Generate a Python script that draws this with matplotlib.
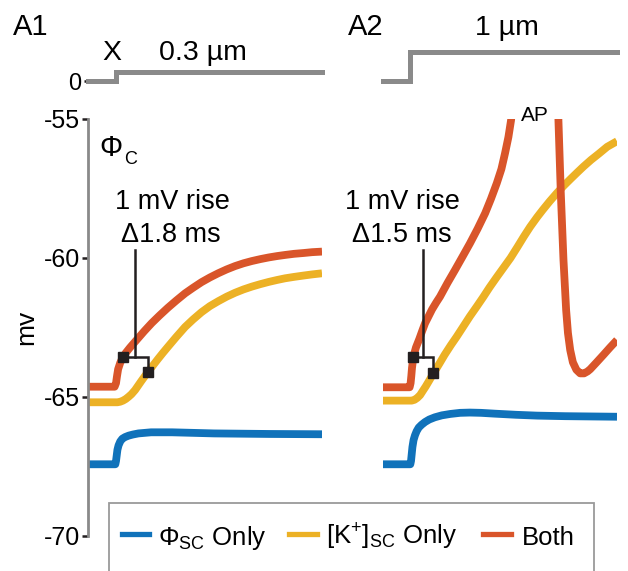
import numpy as np
import matplotlib
matplotlib.use('Agg')
import matplotlib.pyplot as plt
from matplotlib.patches import Rectangle
from matplotlib.lines import Line2D

plt.rcParams['font.family'] = ['Liberation Sans', 'DejaVu Sans']
plt.rcParams['mathtext.fontset'] = 'custom'
plt.rcParams['mathtext.rm'] = 'Liberation Sans'
plt.rcParams['mathtext.it'] = 'Liberation Sans:italic'

# ---- data (time in ms, membrane potential in mV) ----
# A1 : 0.3 um step
stim1_t = [0, 2.0, 2.0, 16.7]
stim1_v = [0, 0, 0.3, 0.3]

a1_both_t = [0, 1.9, 2.0, 2.07, 2.15, 2.3, 2.48, 2.7, 3.0, 3.5, 4.0, 4.55, 5.1, 5.7, 6.3,
             6.93, 7.5, 8.1, 8.7, 9.29, 9.9, 10.5, 11.1, 11.69, 12.3, 12.9, 13.5, 14.07,
             14.7, 15.4, 16.0, 16.7]
a1_both_v = [-64.63, -64.63, -64.5, -64.25, -64.0, -63.77, -63.57, -63.41, -63.22, -62.93,
             -62.64, -62.34, -62.07, -61.79, -61.53, -61.27, -61.07, -60.87, -60.7, -60.55,
             -60.41, -60.29, -60.19, -60.11, -60.04, -59.98, -59.93, -59.89, -59.85, -59.82,
             -59.79, -59.77]

a1_k_t = [0, 2.1, 2.3, 2.5, 2.7, 2.9, 3.1, 3.36, 3.8, 4.26, 4.6, 5.0, 5.35, 5.73, 6.3,
          6.93, 7.5, 8.1, 8.7, 9.31, 9.9, 10.5, 11.1, 11.69, 12.3, 12.9, 13.5, 14.07, 14.7,
          15.4, 16.0, 16.7]
a1_k_v = [-65.19, -65.19, -65.17, -65.13, -65.07, -64.99, -64.9, -64.75, -64.43, -64.11,
          -63.89, -63.63, -63.41, -63.18, -62.84, -62.48, -62.21, -61.95, -61.73, -61.55,
          -61.39, -61.25, -61.13, -61.03, -60.94, -60.86, -60.79, -60.73, -60.68, -60.63,
          -60.59, -60.55]

a1_phi_t = [0, 1.95, 2.0, 2.05, 2.1, 2.18, 2.3, 2.45, 2.65, 2.9, 3.2, 3.6, 4.5, 6, 9, 13, 16.7]
a1_phi_v = [-67.42, -67.42, -67.3, -67.1, -66.9, -66.74, -66.6, -66.5, -66.44, -66.39,
            -66.35, -66.31, -66.27, -66.27, -66.31, -66.33, -66.34]

# A2 : 1 um step
stim2_t = [0, 1.93, 1.93, 16.7]
stim2_v = [0, 0, 1, 1]

a2_both_t = [0, 1.9, 1.97, 2.02, 2.07, 2.12, 2.17, 2.35, 2.6, 2.8, 3.0, 3.25, 3.5, 3.8,
             4.07, 4.6, 5.14, 5.7, 6.21, 6.75, 7.29, 7.7, 8.12, 8.45, 8.71, 8.95, 9.14,
             9.4, 10.6, 12.2, 12.52, 12.69, 12.88, 13.0, 13.07, 13.2, 13.36, 13.55, 13.8,
             14.07, 14.35, 14.6, 14.79, 15.25, 15.74, 16.2, 16.7]
a2_both_v = [-64.65, -64.65, -64.5, -64.25, -63.95, -63.75, -63.55, -63.22, -62.9, -62.62,
             -62.35, -62.1, -61.85, -61.6, -61.39, -60.9, -60.43, -59.93, -59.47, -58.95,
             -58.39, -57.88, -57.31, -56.8, -56.23, -55.65, -55.04, -53.5, 20.0, -45.0,
             -55.04, -57.67, -60.07, -61.2, -61.87, -62.7, -63.31, -63.75, -64.02, -64.15,
             -64.15, -64.08, -64.0, -63.75, -63.48, -63.22, -62.95]

a2_k_t = [0, 2.05, 2.25, 2.45, 2.65, 2.88, 3.05, 3.25, 3.6, 4.0, 4.4, 4.85, 5.26, 5.75,
          6.2, 6.7, 7.16, 7.6, 8.1, 8.6, 9.1, 9.6, 10.05, 10.5, 11.0, 11.4, 11.9, 12.4,
          12.9, 13.4, 13.85, 14.31, 14.85, 15.4, 16.0, 16.7]
a2_k_v = [-65.13, -65.13, -65.1, -65.03, -64.93, -64.75, -64.62, -64.45, -64.15, -63.82,
          -63.48, -63.13, -62.83, -62.45, -62.1, -61.74, -61.4, -61.06, -60.7, -60.35,
          -60.0, -59.6, -59.23, -58.88, -58.53, -58.27, -57.96, -57.67, -57.4, -57.15,
          -56.93, -56.71, -56.47, -56.25, -56.0, -55.8]

a2_phi_t = [0, 1.95, 2.0, 2.05, 2.1, 2.18, 2.28, 2.4, 2.55, 2.75, 3.0, 3.3, 3.7, 4.2, 4.8,
            5.5, 6.2, 7.0, 8.0, 9.5, 11, 13, 16.7]
a2_phi_v = [-67.42, -67.42, -67.3, -67.05, -66.8, -66.55, -66.38, -66.23, -66.1, -66.0,
            -65.9, -65.81, -65.73, -65.66, -65.61, -65.57, -65.56, -65.57, -65.6, -65.64,
            -65.67, -65.69, -65.71]

# 1 mV rise markers: (t_both, t_k, v_both, v_k)
a1_marks = [2.48, 4.26, -63.57, -64.11]
a2_marks = [2.17, 3.6, -63.55, -64.13]

labels = ['\u03a6$_{\\mathrm{SC}}$ Only', '[K$^{\\mathrm{+}}$]$_{\\mathrm{SC}}$ Only', 'Both']

BLUE = '#1072ba'
YELLOW = '#ecb125'
ORANGE = '#d9552a'
GREY = '#8a8a8a'
INK = '#231f20'

W, H = 628, 571
def fx(x): return x / W
def fy(y): return 1 - y / H

fig = plt.figure(figsize=(W / 100, H / 100), dpi=100)

lw = 5.6
ax1 = fig.add_axes([fx(88), fy(536), 234 / W, 417 / H])
ax2 = fig.add_axes([fx(383), fy(536), 234 / W, 417 / H])
for ax, data, mk in [(ax1, (a1_phi_t, a1_phi_v, a1_k_t, a1_k_v, a1_both_t, a1_both_v), a1_marks),
                     (ax2, (a2_phi_t, a2_phi_v, a2_k_t, a2_k_v, a2_both_t, a2_both_v), a2_marks)]:
    ax.plot(data[0], data[1], color=BLUE, lw=lw, solid_capstyle='butt', solid_joinstyle='round')
    ax.plot(data[2], data[3], color=YELLOW, lw=lw, solid_capstyle='butt', solid_joinstyle='round')
    ax.plot(data[4], data[5], color=ORANGE, lw=lw, solid_capstyle='butt', solid_joinstyle='round')
    tb, tk, vb, vk = mk
    ax.plot([tb, tk, tk], [vb, vb, vk], color=INK, lw=1.8, solid_joinstyle='miter')
    ax.plot([tb, tk], [vb, vk], 's', color=INK, ms=6.5)
    ax.plot([(tb + tk) / 2 if ax is ax1 else tb + 0.67] * 2, [vb, -59.7], color=INK, lw=1.8)
    ax.set_xlim(0, 16.7)
    ax.set_ylim(-70, -55)
    ax.set_xticks([])
    for s in ['top', 'right', 'bottom']:
        ax.spines[s].set_visible(False)

ax1.spines['left'].set_color(GREY)
ax1.spines['left'].set_linewidth(2)
ax1.set_yticks([-70, -65, -60, -55])
ax1.set_yticklabels(['-70', '-65', '-60', '-55'])
ax1.tick_params(axis='y', length=4, width=1.8, color=INK, labelsize=18, pad=2)
ax1.set_ylabel('mv', fontsize=19, labelpad=4)
ax2.spines['left'].set_visible(False)
ax2.set_yticks([])

# stimulus traces
s1 = fig.add_axes([fx(88), fy(90), 234 / W, 50 / H])
s2 = fig.add_axes([fx(383), fy(90), 234 / W, 50 / H])
s1.plot(stim1_t, stim1_v, color=GREY, lw=3.6, solid_joinstyle='miter', clip_on=False)
s2.plot(stim2_t, stim2_v, color=GREY, lw=3.6, solid_joinstyle='miter', clip_on=False)
for s in (s1, s2):
    s.set_xlim(0, 16.7)
    s.set_ylim(-0.31, 1.414)
    s.set_xticks([])
    for sp in s.spines.values():
        sp.set_visible(False)
s1.set_yticks([0])
s1.set_yticklabels(['0'])
s1.tick_params(axis='y', length=3, width=1.8, color=INK, labelsize=17, pad=2)
s2.set_yticks([])

# texts
def t(x, y, s, size=17, **kw):
    fig.text(fx(x), fy(y), s, fontsize=size, color='black', **kw)

t(13, 35, 'A1', 21, ha='left', va='baseline')
t(348, 35, 'A2', 21, ha='left', va='baseline')
t(112, 60, 'X', 20.5, ha='center', va='baseline')
t(203, 60, '0.3 \u00b5m', 20.5, ha='center', va='baseline')
t(507, 35, '1 \u00b5m', 20.5, ha='center', va='baseline')
t(111, 156, '\u03a6', 21, ha='center', va='baseline')
t(131, 164, 'C', 13, ha='center', va='baseline')
t(172, 209, '1 mV rise', 19.5, ha='center', va='baseline')
t(171, 242, '\u03941.8 ms', 19.5, ha='center', va='baseline')
t(402, 209, '1 mV rise', 19.5, ha='center', va='baseline')
t(402, 242, '\u03941.5 ms', 19.5, ha='center', va='baseline')
t(535, 121, 'AP', 15, ha='center', va='baseline')

# legend box (runs off the bottom of the figure)
fig.patches.append(Rectangle((fx(109), fy(590)), (594 - 109) / W, 87 / H,
                             transform=fig.transFigure, fill=False,
                             edgecolor='#9a9a9a', lw=1.3))
for (x0, x1, xt), c, lab in zip([(122, 149, 158), (289, 317, 326), (483, 511, 522)],
                                [BLUE, YELLOW, ORANGE], labels):
    fig.add_artist(Line2D([fx(x0), fx(x1)], [fy(534), fy(534)], color=c, lw=3.8,
                          transform=fig.transFigure))
    t(xt, 545, lab, 18.5, ha='left', va='baseline')

fig.savefig('out.png', dpi=100)
